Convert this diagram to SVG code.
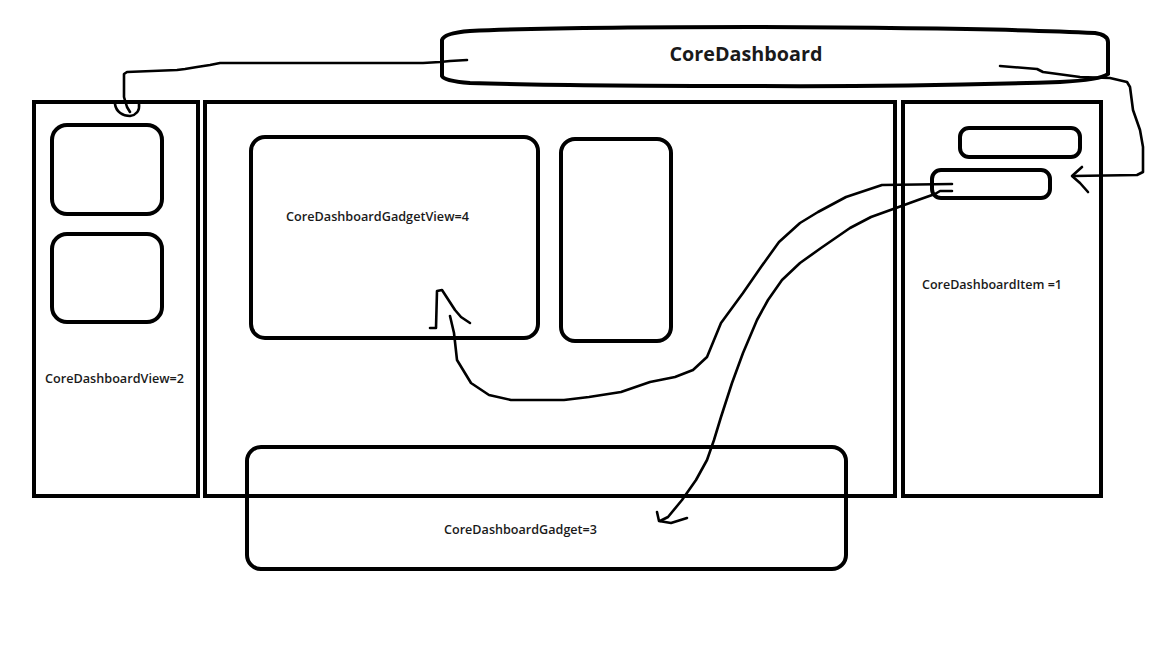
<svg xmlns="http://www.w3.org/2000/svg" width="1152" height="648" viewBox="0 0 1152 648">
<style>
.box{fill:none;stroke:#000;stroke-width:4}
.wire{fill:none;stroke:#000;stroke-width:2.6;stroke-linecap:round;stroke-linejoin:round}
.lbl{font-family:"Open Sans","Noto Sans","Liberation Sans",sans-serif;font-size:12.5px;font-weight:600;fill:#1a1a1a}
.title{font-family:"Open Sans","Noto Sans","Liberation Sans",sans-serif;font-size:19px;font-weight:700;fill:#1a1a1a}
</style>
<rect width="1152" height="648" fill="#fff"/>
<g id="coreDashboardView">
<rect class="box" x="34" y="102" width="164" height="394"/>
<rect class="box" x="52" y="125" width="110" height="89" rx="15"/>
<rect class="box" x="52" y="234" width="110" height="88" rx="15"/>
<text class="lbl" x="45" y="383" textLength="139" lengthAdjust="spacingAndGlyphs">CoreDashboardView=2</text>
</g>
<g id="mainPanel">
<rect class="box" x="205" y="102" width="690" height="394"/>
</g>
<g id="coreDashboardGadgetView">
<rect class="box" x="251" y="137" width="287" height="201" rx="14"/>
<text class="lbl" x="286" y="221" textLength="183" lengthAdjust="spacingAndGlyphs">CoreDashboardGadgetView=4</text>
</g>
<g id="gadgetView2">
<rect class="box" x="561" y="139" width="110" height="202" rx="14"/>
</g>
<g id="coreDashboardGadget">
<rect class="box" x="247" y="447" width="599" height="122" rx="14"/>
<text class="lbl" x="444" y="534" textLength="153" lengthAdjust="spacingAndGlyphs">CoreDashboardGadget=3</text>
</g>
<g id="coreDashboardItem">
<rect class="box" x="903" y="102" width="198" height="394"/>
<rect class="box" x="960" y="128" width="120" height="29" rx="9"/>
<rect class="box" x="932" y="170" width="118" height="28" rx="9"/>
<text class="lbl" x="922" y="289" textLength="140" lengthAdjust="spacingAndGlyphs">CoreDashboardItem =1</text>
</g>
<g id="coreDashboard">
<path class="box" d="M442,40 Q444,33 470,31 Q560,27 750,27 Q1000,28 1095,33 Q1108,35 1108,42 L1108,74 Q1100,80 1060,82 Q900,87 750,86 Q560,86 470,83 Q444,81 442,76 Z"/>
<text class="title" x="746" y="61" text-anchor="middle" textLength="153" lengthAdjust="spacingAndGlyphs">CoreDashboard</text>
</g>
<g id="connectors">
<path class="wire" d="M467,60 L450,61 L440,62 L423,63 L413,63 L300,63 L220,63 L210,65 L197,67 L185,69 L177,70 L127,72 L124,74 L124,97 L127,107 L130,112"/>
<path class="wire" d="M115,104 C116,112 123,116 130,116 C136,115 140,111 139,104"/>
<path class="wire" d="M1000,66 L1037,69 L1043,72 L1080,77 L1110,78 L1127,82 L1130,87 L1133,110 L1140,130 L1143,147 L1143,172 L1137,175 L1073,176"/>
<path class="wire" d="M1082,167 L1072,176 L1080,183 L1088,192"/>
<path class="wire" d="M952,184 L882,185 L846,197 L818,212 L800,223 L779,242 L761,267 L743,293 L721,323 L707,357 L693,370 L675,377 L650,382 L621,392 L589,397 L564,400 L511,400 L489,395 L471,383 L457,360 L454,333 L450,316"/>
<path class="wire" d="M430,328 L436,328 L437,291 L442,290 L455,310 L461,317 L470,323"/>
<path class="wire" d="M952,191 L940,191 L935,194 L918,200 L896,208 L871,217 L850,228 L821,248 L800,263 L782,280 L768,300 L757,320 L743,353 L732,383 L721,417 L714,440 L707,460 L696,480 L682,500 L668,517 L660,521"/>
<path class="wire" d="M657,512 L659,521 L671,523 L687,518"/>
</g>
</svg>
